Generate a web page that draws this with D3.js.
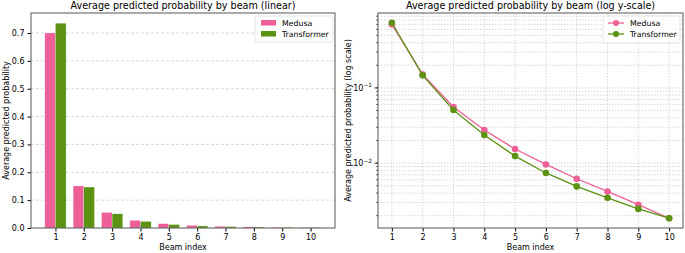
<!DOCTYPE html>
<html>
<head>
<meta charset="utf-8">
<script src="https://cdn.jsdelivr.net/npm/d3@7/dist/d3.min.js"></script>
<style>
body { margin: 0; background: #fff; }
svg { font-family: "DejaVu Sans", sans-serif; }
</style>
</head>
<body>
<script>
const beams = [1, 2, 3, 4, 5, 6, 7, 8, 9, 10];
const medusa = [0.700, 0.151, 0.0558, 0.0275, 0.0154, 0.0096, 0.0062, 0.0042, 0.0028, 0.00185];
const transformer = [0.735, 0.147, 0.0509, 0.0236, 0.0124, 0.0074, 0.0049, 0.00345, 0.00246, 0.00185];
const seriesNames = ["Medusa", "Transformer"];
const linTicks = [0.0, 0.1, 0.2, 0.3, 0.4, 0.5, 0.6, 0.7];

const pink = "#ee5f97", green = "#5c9212";
const colors = [pink, green];

const width = 685, height = 253;
const titleSize = 9.6, labelSize = 8, tickSize = 8, legSize = 7.8;

const svg = d3.select("body")
	.append("svg")
	.attr("width", width)
	.attr("height", height);

// ---- left panel: grouped bars
const L = {left: 31, right: 335, top: 13, bottom: 228};
const barW = 0.375;

const x1 = d3.scaleLinear()
	.domain([1 - barW - 0.4875, 10 + barW + 0.4875])
	.range([L.left, L.right]);
const y1 = d3.scaleLinear()
	.domain([0, d3.max(transformer) * 1.05])
	.range([L.bottom, L.top]);

const g1 = svg.append("g");

g1.selectAll(".hgrid")
	.data(linTicks.slice(1))
	.join("line")
	.attr("x1", L.left).attr("x2", L.right)
	.attr("y1", d => y1(d)).attr("y2", d => y1(d))
	.attr("stroke", "#cfcfcf")
	.attr("stroke-width", 0.8)
	.attr("stroke-dasharray", "3,2");

[medusa, transformer].forEach((vals, k) => {
	g1.selectAll(".bar" + k)
		.data(beams)
		.join("rect")
		.attr("x", (d) => x1(d + (k - 1) * barW))
		.attr("width", x1(barW) - x1(0))
		.attr("y", (d, i) => y1(vals[i]))
		.attr("height", (d, i) => y1(0) - y1(vals[i]))
		.attr("fill", colors[k])
		.attr("stroke", "#fff")
		.attr("stroke-opacity", 0.5)
		.attr("stroke-width", 0.5);
});

const xAxis1 = d3.axisBottom(x1).tickValues(beams).tickFormat(d3.format("d")).tickSize(3.5).tickPadding(3);
const yAxis1 = d3.axisLeft(y1).tickValues(linTicks).tickFormat(d3.format(".1f")).tickSize(3.5).tickPadding(3);

g1.append("g").attr("transform", "translate(0," + L.bottom + ")").call(xAxis1);
g1.append("g").attr("transform", "translate(" + L.left + ",0)").call(yAxis1);

g1.append("rect")
	.attr("x", L.left).attr("y", L.top)
	.attr("width", L.right - L.left).attr("height", L.bottom - L.top)
	.attr("fill", "none").attr("stroke", "#555").attr("stroke-width", 1);

g1.append("text")
	.attr("x", (L.left + L.right) / 2).attr("y", 9)
	.attr("text-anchor", "middle").attr("font-size", titleSize)
	.text("Average predicted probability by beam (linear)");
g1.append("text")
	.attr("x", (L.left + L.right) / 2).attr("y", 250)
	.attr("text-anchor", "middle").attr("font-size", labelSize)
	.text("Beam index");
g1.append("text")
	.attr("transform", "translate(9," + ((L.top + L.bottom) / 2) + ") rotate(-90)")
	.attr("text-anchor", "middle").attr("font-size", labelSize)
	.text("Average predicted probability");

const leg1 = g1.append("g").attr("transform", "translate(255,16)");
leg1.append("rect").attr("width", 78).attr("height", 26).attr("rx", 2)
	.attr("fill", "#fff").attr("fill-opacity", 0.8).attr("stroke", "#ddd").attr("stroke-width", 0.8);
seriesNames.forEach((n, i) => {
	leg1.append("rect").attr("x", 6).attr("y", 4 + i * 11).attr("width", 15).attr("height", 5.5).attr("fill", colors[i]);
	leg1.append("text").attr("x", 27).attr("y", 9.5 + i * 11).attr("font-size", legSize).text(n);
});

// ---- right panel: log lines
const R = {left: 378, right: 683, top: 13, bottom: 228};
const allVals = medusa.concat(transformer);
const lmin = Math.log10(d3.min(allVals)), lmax = Math.log10(d3.max(allVals));
const pad = (lmax - lmin) * 0.05;

const x2 = d3.scaleLinear().domain([0.55, 10.45]).range([R.left, R.right]);
const y2 = d3.scaleLog().domain([Math.pow(10, lmin - pad), Math.pow(10, lmax + pad)]).range([R.bottom, R.top]);

const g2 = svg.append("g");

const minorVals = [];
for (let e = -3; e <= 0; e++) {
	for (let m = 1; m <= 9; m++) {
		const v = m * Math.pow(10, e);
		if (v >= y2.domain()[0] && v <= y2.domain()[1]) minorVals.push(v);
	}
}

g2.selectAll(".hgrid")
	.data(minorVals)
	.join("line")
	.attr("x1", R.left).attr("x2", R.right)
	.attr("y1", d => y2(d)).attr("y2", d => y2(d))
	.attr("stroke", "#cfcfcf")
	.attr("stroke-width", 0.8)
	.attr("stroke-dasharray", "1.5,1.5");
g2.selectAll(".vgrid")
	.data(beams)
	.join("line")
	.attr("x1", d => x2(d)).attr("x2", d => x2(d))
	.attr("y1", R.top).attr("y2", R.bottom)
	.attr("stroke", "#cfcfcf")
	.attr("stroke-width", 0.8)
	.attr("stroke-dasharray", "1.5,1.5");

const line = d3.line()
	.x((d, i) => x2(beams[i]))
	.y(d => y2(d));

[medusa, transformer].forEach((vals, k) => {
	g2.append("path")
		.attr("d", line(vals))
		.attr("fill", "none")
		.attr("stroke", colors[k])
		.attr("stroke-width", 1.3);
	g2.selectAll(".pt" + k)
		.data(vals)
		.join("circle")
		.attr("cx", (d, i) => x2(beams[i]))
		.attr("cy", d => y2(d))
		.attr("r", 3.3)
		.attr("fill", colors[k]);
});

const xAxis2 = d3.axisBottom(x2).tickValues(beams).tickFormat(d3.format("d")).tickSize(3.5).tickPadding(3);
g2.append("g").attr("transform", "translate(0," + R.bottom + ")").call(xAxis2);

const yAxisG = g2.append("g").attr("transform", "translate(" + R.left + ",0)");
yAxisG.selectAll(".minor")
	.data(minorVals)
	.join("line")
	.attr("x1", -2).attr("x2", 0)
	.attr("y1", d => y2(d)).attr("y2", d => y2(d))
	.attr("stroke", "#000").attr("stroke-width", 0.6);
const majors = [0.01, 0.1];
yAxisG.selectAll(".major")
	.data(majors)
	.join("line")
	.attr("x1", -3.5).attr("x2", 0)
	.attr("y1", d => y2(d)).attr("y2", d => y2(d))
	.attr("stroke", "#000").attr("stroke-width", 0.8);
const lbl = yAxisG.selectAll(".lbl")
	.data(majors)
	.join("text")
	.attr("x", -6)
	.attr("y", d => y2(d) + 3)
	.attr("text-anchor", "end")
	.attr("font-size", tickSize);
lbl.append("tspan").text("10");
lbl.append("tspan").attr("dy", -3.5).attr("font-size", 5.8).text(d => "\u2212" + Math.round(-Math.log10(d)));

g2.append("rect")
	.attr("x", R.left).attr("y", R.top)
	.attr("width", R.right - R.left).attr("height", R.bottom - R.top)
	.attr("fill", "none").attr("stroke", "#555").attr("stroke-width", 1);

g2.append("text")
	.attr("x", (R.left + R.right) / 2).attr("y", 9)
	.attr("text-anchor", "middle").attr("font-size", titleSize)
	.text("Average predicted probability by beam (log y-scale)");
g2.append("text")
	.attr("x", (R.left + R.right) / 2).attr("y", 250)
	.attr("text-anchor", "middle").attr("font-size", labelSize)
	.text("Beam index");
g2.append("text")
	.attr("transform", "translate(351," + ((R.top + R.bottom) / 2) + ") rotate(-90)")
	.attr("text-anchor", "middle").attr("font-size", labelSize)
	.text("Average predicted probability (log scale)");

const leg2 = g2.append("g").attr("transform", "translate(603,16)");
leg2.append("rect").attr("width", 77).attr("height", 27).attr("rx", 2)
	.attr("fill", "#fff").attr("fill-opacity", 0.8).attr("stroke", "#ddd").attr("stroke-width", 0.8);
seriesNames.forEach((n, i) => {
	leg2.append("line").attr("x1", 5).attr("x2", 21).attr("y1", 7 + i * 11).attr("y2", 7 + i * 11)
		.attr("stroke", colors[i]).attr("stroke-width", 1.3);
	leg2.append("circle").attr("cx", 13).attr("cy", 7 + i * 11).attr("r", 3).attr("fill", colors[i]);
	leg2.append("text").attr("x", 27).attr("y", 10 + i * 11).attr("font-size", legSize).text(n);
});

svg.selectAll(".tick text").attr("font-size", tickSize).attr("font-family", "DejaVu Sans, sans-serif");
svg.selectAll(".domain").remove();
</script>
</body>
</html>
